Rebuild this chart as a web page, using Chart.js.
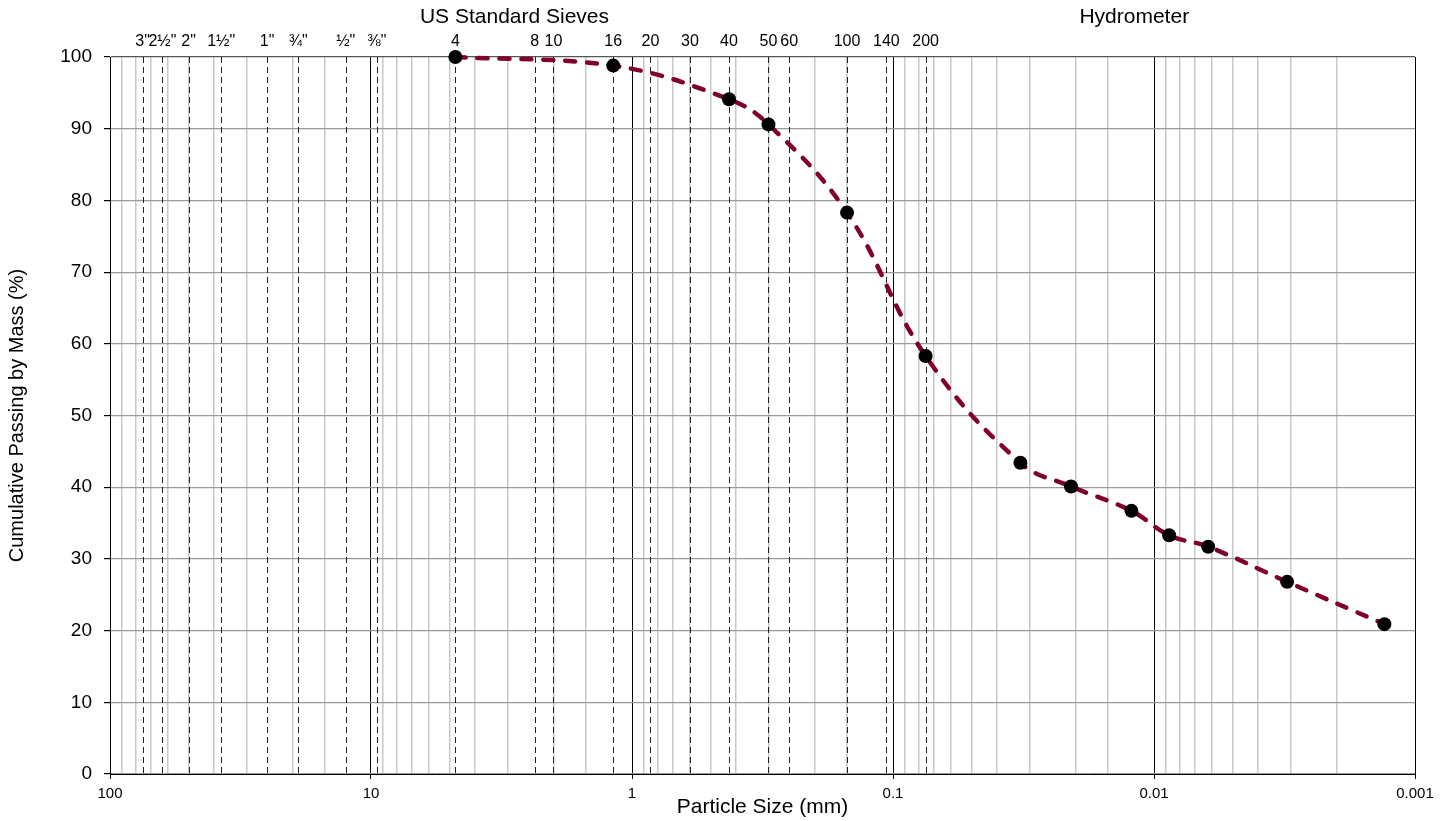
<!DOCTYPE html>
<html>
<head>
<meta charset="utf-8">
<script src="https://cdn.jsdelivr.net/npm/chart.js@4.4.1/dist/chart.umd.min.js"></script>
<style>
  html, body { margin: 0; padding: 0; background: #fff; }
  #wrap { width: 1450px; height: 821px; }
</style>
</head>
<body>
<div id="wrap"><canvas id="chart"></canvas></div>
<script>
// grain size test results (mm, % passing)
const particleSize = [4.75, 1.18, 0.425, 0.3, 0.15, 0.075, 0.0325, 0.0208, 0.0122, 0.00875, 0.0062, 0.00309, 0.00131]
const percentPassing = [100, 98.8, 94.1, 90.6, 78.3, 58.3, 43.4, 40.1, 36.7, 33.3, 31.7, 26.8, 20.9]

// US standard sieve openings (mm) and their names
const sieveSizes = [75, 63, 50, 37.5, 25, 19, 12.5, 9.5, 4.75, 2.36, 2.0, 1.18, 0.85, 0.6, 0.425, 0.3, 0.25, 0.15, 0.106, 0.075]
const sieveLabels = ['3"', '2½"', '2"', '1½"', '1"', '¾"', '½"', '⅜"', '4', '8', '10', '16', '20', '30', '40', '50', '60', '100', '140', '200']

const headerLabels = ['US Standard Sieves', 'Hydrometer']
const headerAt = [2.82, 0.0119]

const FONT = '"Liberation Sans", Arial, sans-serif'

function isDecade(v) {
  const l = Math.log10(v)
  return Math.abs(l - Math.round(l)) < 1e-6
}

const sievePlugin = {
  id: 'sieves',
  beforeDatasetsDraw(chart) {
    const { ctx, chartArea, scales: { x } } = chart
    ctx.save()
    ctx.strokeStyle = '#222'
    ctx.lineWidth = 1
    ctx.setLineDash([6, 4])
    sieveSizes.forEach((s) => {
      const px = Math.round(x.getPixelForValue(s)) + 0.5
      ctx.beginPath()
      ctx.moveTo(px, chartArea.top)
      ctx.lineTo(px, chartArea.bottom)
      ctx.stroke()
    })
    ctx.restore()
  },
  afterDraw(chart) {
    const { ctx, scales: { x } } = chart
    ctx.save()
    ctx.fillStyle = '#000'
    ctx.textAlign = 'center'
    ctx.textBaseline = 'middle'
    ctx.font = '16px ' + FONT
    sieveSizes.forEach((s, i) => {
      ctx.fillText(sieveLabels[i], x.getPixelForValue(s), 42)
    })
    ctx.font = '21px ' + FONT
    headerLabels.forEach((t, i) => {
      ctx.fillText(t, x.getPixelForValue(headerAt[i]), 17)
    })
    ctx.restore()
  }
}

const ctx = document.getElementById('chart')

new Chart(ctx, {
  type: 'line',
  data: {
    datasets: [
      {
        data: particleSize.map((x, i) => ({ x, y: percentPassing[i] })),
        borderColor: '#800030',
        borderWidth: 4.5,
        borderDash: [10, 12],
        borderCapStyle: 'round',
        tension: 0.4,
        pointRadius: 7,
        pointBackgroundColor: '#000',
        pointBorderColor: '#000',
        pointBorderWidth: 0,
        clip: false
      }
    ]
  },
  options: {
    responsive: true,
    maintainAspectRatio: false,
    animation: false,
    layout: { padding: { top: 57, right: 35, left: 0, bottom: 0 } },
    plugins: {
      legend: { display: false },
      tooltip: { enabled: false }
    },
    scales: {
      x: {
        type: 'logarithmic',
        reverse: true,
        min: 0.001,
        max: 100,
        afterFit: (scale) => { scale.height = 47 },
        border: { color: '#000', width: 1 },
        grid: {
          color: (c) => isDecade(c.tick.value) ? '#000' : '#c8c8c8',
          lineWidth: (c) => isDecade(c.tick.value) ? 1 : 1.5,
          tickColor: (c) => isDecade(c.tick.value) ? '#000' : 'rgba(0,0,0,0)',
          tickLength: 5
        },
        ticks: {
          autoSkip: false,
          maxRotation: 0,
          padding: 6,
          color: '#000',
          font: { family: FONT, size: 15 },
          callback: (v) => isDecade(v) ? String(Number(v.toPrecision(1))) : ''
        },
        title: {
          display: true,
          text: 'Particle Size (mm)',
          color: '#000',
          font: { family: FONT, size: 21 },
          padding: { top: 0, bottom: 1 }
        }
      },
      y: {
        min: 0,
        max: 100,
        afterFit: (scale) => { scale.width = 110 },
        border: { color: '#000', width: 1 },
        grid: {
          color: (c) => c.tick.value === 100 ? '#555' : '#9a9a9a',
          lineWidth: 1.2,
          tickColor: '#000',
          tickLength: 6
        },
        ticks: {
          stepSize: 10,
          padding: 12,
          color: '#000',
          font: { family: FONT, size: 19 }
        },
        title: {
          display: true,
          text: 'Cumulative Passing by Mass (%)',
          color: '#000',
          font: { family: FONT, size: 20 },
          padding: { top: 5, bottom: 0 }
        }
      }
    }
  },
  plugins: [sievePlugin]
})
</script>
</body>
</html>
